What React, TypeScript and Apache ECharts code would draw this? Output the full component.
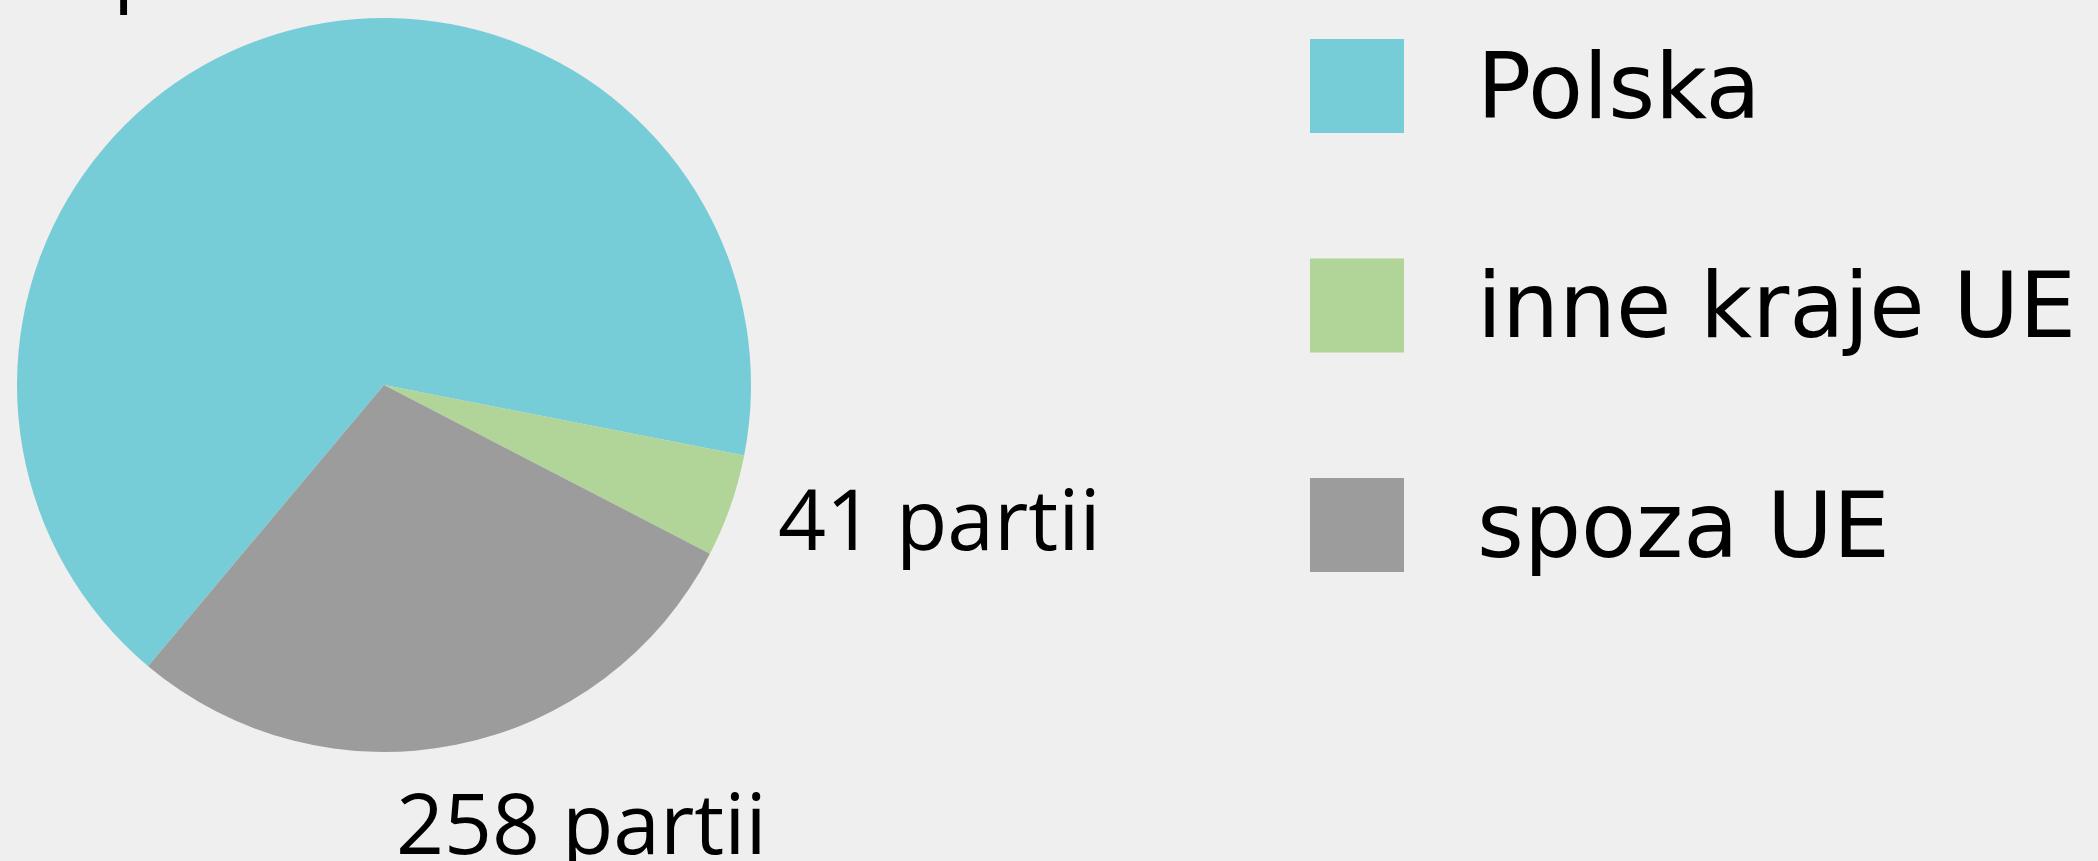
import React, { useEffect, useRef } from "react";
import * as echarts from "echarts";

const categories: string[] = ["Polska", "inne kraje UE", "spoza UE"];
const values: number[] = [606, 41, 258];
const colors: string[] = ["#77cdd7", "#b1d498", "#9c9c9c"];
const unitLabel = "partii";

// label anchor positions (left edge, vertical middle) per slice
const labelPos: { x: number; y: number }[] = [
  { x: -53, y: -38 },
  { x: 778, y: 517 },
  { x: 396, y: 821 },
];

export default function App() {
  const ref = useRef<HTMLDivElement>(null);
  useEffect(() => {
    document.body.style.margin = "0";
    document.body.style.background = "#efefef";
    const chart = echarts.init(ref.current!, null, { renderer: "svg" });
    chart.setOption({
      animation: false,
      backgroundColor: "#efefef",
      textStyle: { fontFamily: "Open Sans" },
      legend: {
        orient: "vertical",
        left: 1310,
        top: 39,
        padding: 0,
        itemWidth: 94,
        itemHeight: 94,
        itemGap: 125.5,
        icon: "rect",
        selectedMode: false,
        data: categories,
        textStyle: {
          fontSize: 90,
          color: "#000",
          fontFamily: "DejaVu Sans",
          padding: [0, 0, 0, 68],
        },
      },
      series: [
        {
          type: "pie",
          center: [384, 385],
          radius: 367,
          startAngle: 230,
          clockwise: true,
          avoidLabelOverlap: false,
          silent: true,
          emphasis: { disabled: true },
          itemStyle: { borderWidth: 0 },
          label: {
            show: true,
            position: "outside",
            formatter: (p: any) => `${p.value} ${unitLabel}`,
            fontSize: 84,
            color: "#000",
            fontFamily: "Open Sans",
          },
          labelLine: { show: false },
          labelLayout: (params: any) => {
            const pos = labelPos[params.dataIndex];
            return {
              x: pos.x,
              y: pos.y,
              align: "left",
              verticalAlign: "middle",
            };
          },
          data: categories.map((name, i) => ({
            name,
            value: values[i],
            itemStyle: { color: colors[i] },
          })),
        },
      ],
    });
    return () => chart.dispose();
  }, []);
  return <div ref={ref} style={{ width: 2098, height: 861 }} />;
}
